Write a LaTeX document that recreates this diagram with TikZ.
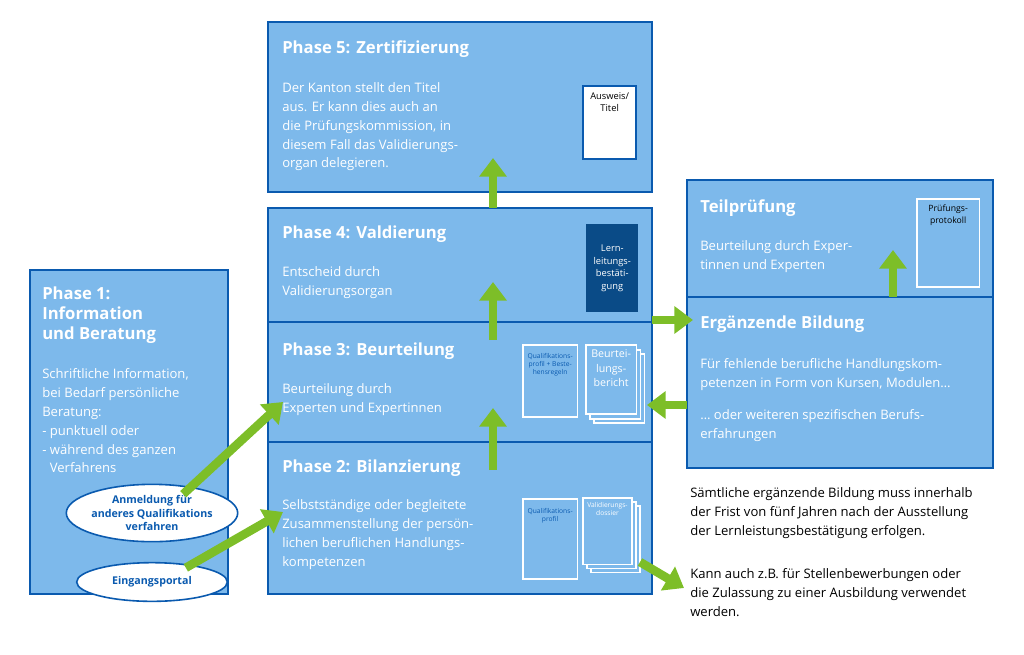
\documentclass[tikz,border=0pt]{standalone}
\usepackage{fontspec}
\setmainfont{Open Sans}
\usetikzlibrary{arrows.meta,shapes.geometric}
\definecolor{boxfill}{RGB}{125,185,235}
\definecolor{boxline}{RGB}{10,90,175}
\definecolor{docdark}{RGB}{10,75,135}
\definecolor{arrgreen}{RGB}{125,190,40}
\tikzset{
  phase/.style={draw=boxline,fill=boxfill,line width=1.5pt},
  head/.style={anchor=north west,inner sep=0pt,text=white,font=\bfseries\fontsize{12.5}{15}\selectfont,align=left},
  body/.style={anchor=north west,inner sep=0pt,text=white,font=\fontsize{9.8}{14.2}\selectfont,align=left},
  doc/.style={draw=white,line width=1.2pt,fill=boxfill,text=boxline,font=\fontsize{5}{6}\selectfont,align=center},
  garr/.style={draw=arrgreen,line width=6.5pt,-{Triangle[width=20pt,length=14pt]}},
  oval/.style={ellipse,draw=boxline,fill=white,line width=1.2pt,text=boxline,font=\bfseries\fontsize{8}{10}\selectfont,align=center,inner sep=0pt},
  note/.style={anchor=north west,inner sep=0pt,font=\fontsize{9.8}{14.2}\selectfont,align=left}
}
\begin{document}
\begin{tikzpicture}[x=0.75pt,y=-0.75pt]
\useasboundingbox (0,0) rectangle (1024,654);
% phases
\draw[phase] (268,22) rectangle (652,192);
\draw[phase] (268,208) rectangle (652,322);
\draw[phase] (268,322) rectangle (652,442);
\draw[phase] (268,442) rectangle (652,594);
\draw[phase] (30,270) rectangle (228,594);
\draw[phase] (687,180) rectangle (993,297);
\draw[phase] (687,297) rectangle (993,468);
% documents
\node[draw=boxline,fill=white,line width=1.5pt,minimum width=40pt,minimum height=55pt,anchor=north west,inner sep=0pt,font=\fontsize{7}{9}\selectfont,align=center] (ausweis) at (582,85) {Ausweis/\\Titel\\[22pt]};
\node[fill=docdark,text=white,minimum width=39pt,minimum height=66pt,anchor=north west,inner sep=0pt,font=\fontsize{7}{9.5}\selectfont,align=center] (lern) at (586,224) {Lern-\\leitungs-\\bestäti-\\gung};
\node[doc,minimum width=41pt,minimum height=54pt,anchor=north west,inner sep=0pt] (qpb) at (522,344) {Qualifikations-\\profil + Beste-\\hensregeln\\[20pt]};
\node[doc,minimum width=38pt,minimum height=52pt,anchor=north west] (b3) at (593,353) {};
\node[doc,minimum width=38pt,minimum height=52pt,anchor=north west] (b2) at (589,349) {};
\node[doc,minimum width=38pt,minimum height=52pt,anchor=north west,inner sep=0pt,text=white,font=\fontsize{8}{11}\selectfont] (bericht) at (585,344) {Beurtei-\\lungs-\\bericht\\[6pt]};
\node[doc,minimum width=41pt,minimum height=60pt,anchor=north west,inner sep=0pt] (qp) at (522,498) {Qualifikations-\\profil\\[30pt]};
\node[doc,minimum width=37pt,minimum height=50pt,anchor=north west] (v3) at (590,505) {};
\node[doc,minimum width=37pt,minimum height=50pt,anchor=north west] (v2) at (586,501) {};
\node[doc,minimum width=37pt,minimum height=50pt,anchor=north west,inner sep=0pt,text=white] (dossier) at (582,497) {Validierungs-\\dossier\\[28pt]};
\node[doc,minimum width=47pt,minimum height=66pt,anchor=north west,inner sep=0pt,text=black,font=\fontsize{6.5}{9}\selectfont] (protokoll) at (916,198) {Prüfungs-\\protokoll\\[34pt]};
% headings and texts
\node[head] (h5) at (282,40) {Phase 5: Zertifizierung};
\node[body] (t5) at (282,82) {Der Kanton stellt den Titel\\aus. Er kann dies auch an\\die Prüfungskommission, in\\diesem Fall das Validierungs-\\organ delegieren.};
\node[head] (h4) at (282,226) {Phase 4: Valdierung};
\node[body] (t4) at (282,266) {Entscheid durch\\Validierungsorgan};
\node[head] (h3) at (282,343) {Phase 3: Beurteilung};
\node[body] (t3) at (282,383) {Beurteilung durch\\Experten und Expertinnen};
\node[head] (h2) at (282,460) {Phase 2: Bilanzierung};
\node[body] (t2) at (282,499) {Selbstständige oder begleitete\\Zusammenstellung der persön-\\lichen beruflichen Handlungs-\\kompetenzen};
\node[head] (h1) at (42,287) {Phase 1:\\Information\\und Beratung};
\node[body] (t1) at (42,368) {Schriftliche Information,\\bei Bedarf persönliche\\Beratung:\\- punktuell oder\\- während des ganzen\\\phantom{- }Verfahrens};
\node[head] (ht) at (700,199) {Teilprüfung};
\node[body] (tt) at (700,240) {Beurteilung durch Exper-\\tinnen und Experten};
\node[head] (he) at (700,316) {Ergänzende Bildung};
\node[body] (te) at (700,358) {Für fehlende berufliche Handlungskom-\\petenzen in Form von Kursen, Modulen…\\[10pt]… oder weiteren spezifischen Berufs-\\erfahrungen};
\node[note] (n1) at (690,487) {Sämtliche ergänzende Bildung muss innerhalb\\der Frist von fünf Jahren nach der Ausstellung\\der Lernleistungsbestätigung erfolgen.};
\node[note] (n2) at (690,568) {Kann auch z.B. für Stellenbewerbungen oder\\die Zulassung zu einer Ausbildung verwendet\\werden.};
% entry ovals
\node[oval,minimum width=120pt,minimum height=43pt] (anm) at (152,513) {Anmeldung für\\anderes Qualifikations\\verfahren};
\node[oval,minimum width=113pt,minimum height=29pt] (ein) at (152,582) {Eingangsportal};
% arrows
\coordinate (p5in) at (493,158);
\coordinate (p4in) at (493,282);
\coordinate (p3in) at (493,408);
\coordinate (tin) at (893,250);
\coordinate (ein2) at (693,320);
\coordinate (berin) at (647,405);
\coordinate (n2in) at (684,588);
\coordinate (p3l) at (283,402);
\coordinate (p2l) at (283,512);
\draw[garr] (493,208) -- (p5in);
\draw[garr] (493,340) -- (p4in);
\draw[garr] (493,470) -- (p3in);
\draw[garr] (893,297) -- (tin);
\draw[garr] (652,320) -- (ein2);
\draw[garr] (687,405) -- (berin);
\draw[garr] (640,562) -- (n2in);
\draw[garr] (anm.north east) ++(-30,2) -- (p3l);
\draw[garr] (ein.north east) ++(-20,0) -- (p2l);
\end{tikzpicture}
\end{document}
